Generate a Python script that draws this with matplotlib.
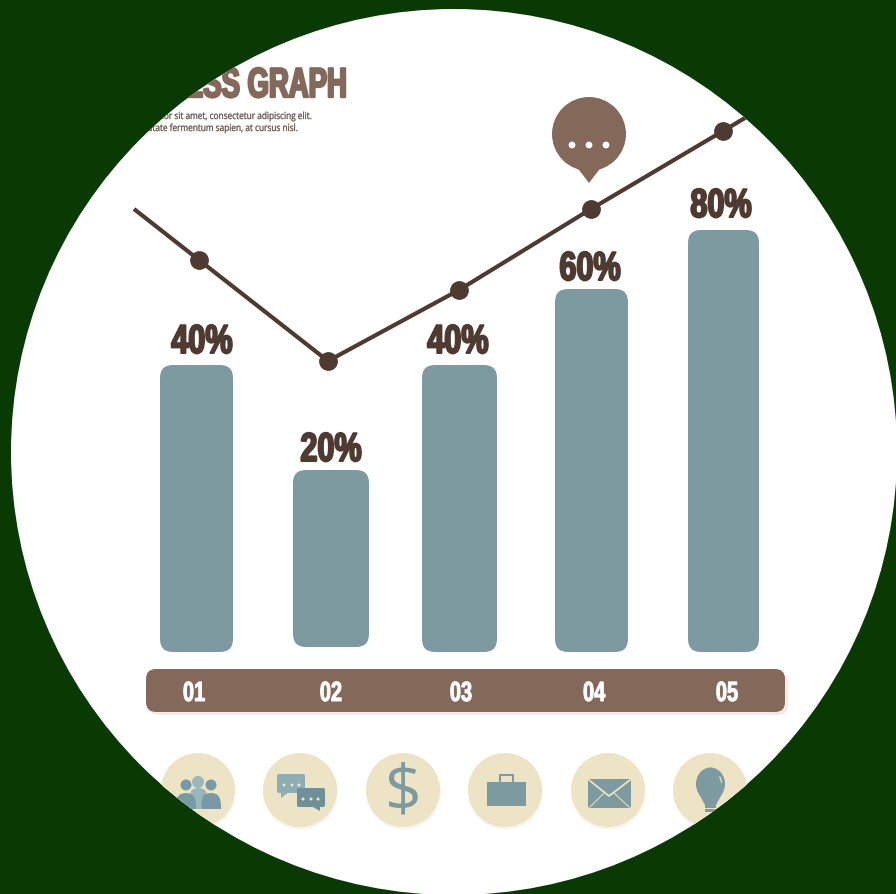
import matplotlib
matplotlib.use('Agg')
import matplotlib.pyplot as plt
from matplotlib.patches import Circle, FancyBboxPatch, Polygon, Rectangle, Ellipse, Arc
from matplotlib.transforms import Affine2D
import matplotlib.patheffects as pe

W, H = 896, 894
green = '#0a3a04'
teal = '#7d9aa0'
brown = '#84685a'
dark = '#4f3a32'
cream = '#ede4c5'

# bars, in picture pixels
bar_left = [160, 293, 422, 555, 688]
bar_right = [233, 369, 497, 628, 759]
bar_top = [365, 470, 365, 289, 230]
bar_bottom = [652, 647, 652, 652, 652]
bar_labels = ['40%', '20%', '40%', '60%', '80%']
label_x = [202, 331, 458, 590, 721]
label_y = [353, 461, 353, 280, 217]

# line
line_x = [134, 199, 328, 459, 591, 723, 750]
line_y = [209, 260, 361, 290, 209, 131, 115]
marker_x = line_x[1:6]
marker_y = line_y[1:6]

# band
band_labels = ['01', '02', '03', '04', '05']
band_x = [194, 331, 461, 594, 727]

# icon circles
icon_x = [198, 300, 403, 505, 608, 710]
icon_y = 790

bold = ['Liberation Sans', 'DejaVu Sans']
body = ['Open Sans', 'DejaVu Sans']


# squeezes the glyphs sideways and thickens them, there is no Impact here
# text drawn this way goes out as a path, so the clip to the disc works on it too
class Squeeze(pe.AbstractPathEffect):
    def __init__(self, sx, anchor, lw):
        super().__init__()
        self.sx = sx
        self.anchor = anchor
        self.lw = lw

    def draw_path(self, renderer, gc, tpath, affine, rgbFace=None):
        ext = tpath.get_extents()
        x0 = ext.x0 + (ext.x1 - ext.x0) * self.anchor
        tr = Affine2D().translate(-x0, 0).scale(self.sx, 1).translate(x0, 0) + affine
        gc0 = renderer.new_gc()
        gc0.copy_properties(gc)
        gc0.set_foreground(rgbFace)
        gc0.set_linewidth(self.lw)
        renderer.draw_path(gc0, tpath, tr, rgbFace)
        gc0.restore()


fig = plt.figure(figsize=(W / 100, H / 100), dpi=100, facecolor=green)
ax = fig.add_axes([0, 0, 1, 1])
ax.set_xlim(0, W)
ax.set_ylim(H, 0)
ax.axis('off')

disc = Circle((454, 452), 443, fc='white', ec='none', zorder=0)
ax.add_patch(disc)


def add(p, z=2):
    p.set_zorder(z)
    ax.add_patch(p)
    p.set_clip_path(disc)
    return p


def round_box(x0, y0, x1, y1, r, color, z=2):
    return add(FancyBboxPatch((x0 + r, y0 + r), x1 - x0 - 2 * r, y1 - y0 - 2 * r,
                              boxstyle='round,pad=%g,rounding_size=%g' % (r, r),
                              fc=color, ec='none'), z)


# title
t = ax.text(347, 97, 'BUSINESS GRAPH', ha='right', va='baseline', fontsize=30, color=brown,
            family=bold, weight='bold', clip_on=True,
            path_effects=[Squeeze(0.66, 1.0, 1.7)])
t.set_clip_path(disc)
t = ax.text(314, 119, 'Lorem ipsum dolor sit amet, consectetur adipiscing elit.', ha='right', va='baseline',
            fontsize=7, color='#5f4c44', family=body, clip_on=True,
            path_effects=[Squeeze(0.85, 1.0, 0.2)])
t.set_clip_path(disc)
t = ax.text(300, 131, 'Vulputate fermentum sapien, at cursus nisl.', ha='right', va='baseline',
            fontsize=7, color='#5f4c44', family=body, clip_on=True,
            path_effects=[Squeeze(0.85, 1.0, 0.2)])
t.set_clip_path(disc)

# bars
for x0, x1, y0, y1 in zip(bar_left, bar_right, bar_top, bar_bottom):
    round_box(x0, y0, x1, y1, 13, teal)
for s, x, y in zip(bar_labels, label_x, label_y):
    ax.text(x, y, s, ha='center', va='baseline', fontsize=29, color=dark, family=bold, weight='bold',
            path_effects=[Squeeze(0.76, 0.5, 1.5)], zorder=4)

# line
l, = ax.plot(line_x, line_y, color=dark, lw=3, zorder=3, solid_capstyle='butt')
l.set_clip_path(disc)
ax.plot(marker_x, marker_y, 'o', color=dark, ms=12.5, zorder=3)

# speech bubble
add(Circle((589, 134), 37, fc=brown, ec='none'), 3)
add(Polygon([(576, 166), (602, 166), (589, 183)], fc=brown, ec='none'), 3)
for x in [572, 589, 606]:
    add(Circle((x, 145), 3.4, fc='white', ec='none'), 4)

# band
round_box(149, 672, 788, 715, 10, '#efece8', 1)
round_box(146, 669, 785, 712, 10, brown)
for s, x in zip(band_labels, band_x):
    ax.text(x, 701, s, ha='center', va='baseline', fontsize=20, color='white', family=bold, weight='bold',
            path_effects=[Squeeze(0.72, 0.5, 0.7)], zorder=4)

# icon circles
for x in icon_x:
    add(Circle((x + 0.5, icon_y + 2), 37.5, fc='#f6f5f1', ec='none'), 1)
    add(Circle((x, icon_y), 37, fc=cream, ec='none'), 2)

# people
c1, c2 = '#7a9aa3', '#9ab7bb'
add(Circle((198, 782), 6, fc=c2, ec='none'), 3)
round_box(190, 788, 207, 815, 8, c2, 3)
for x in [186, 211]:
    add(Circle((x, 785), 5.5, fc=c1, ec='none'), 4)
    round_box(x - 9.5, 793, x + 9.5, 815, 9.5, c1, 4)
    add(Rectangle((x - 9.5, 803), 19, 6, fc=c1, ec='none'), 4)
add(Rectangle((170, 809), 55, 8, fc=cream, ec='none'), 5)

# chat
round_box(277, 774, 305, 793, 2, '#8fadb4', 3)
add(Polygon([(281, 792), (289, 792), (281, 798)], fc='#8fadb4', ec='none'), 3)
round_box(297, 788, 325, 807, 2, '#6f8f99', 4)
add(Polygon([(311, 806), (320, 806), (320, 811)], fc='#6f8f99', ec='none'), 4)
for x in [284, 292, 299]:
    add(Circle((x, 785), 1.5, fc=cream, ec='none'), 5)
for x in [303, 311, 318]:
    add(Circle((x, 799), 1.5, fc=cream, ec='none'), 5)

# dollar
ax.text(403, 794, '$', ha='center', va='center', fontsize=46, color=teal,
        family=body, zorder=3)

# briefcase
add(Rectangle((487, 782), 39, 24, fc=teal, ec='none'), 3)
add(Rectangle((500, 775), 12.5, 8, fc='none', ec=teal, lw=1.4), 3)

# envelope
round_box(588, 779, 631, 808, 2, teal, 3)
ax.plot([589, 609, 630], [780, 796, 780], color=cream, lw=1.3, zorder=4)
ax.plot([590, 604], [807, 793], color=cream, lw=0.7, zorder=4)
ax.plot([629, 614], [807, 793], color=cream, lw=0.7, zorder=4)

# bulb
add(Ellipse((710.5, 784), 29, 33, fc=teal, ec='none'), 3)
add(Polygon([(699, 794), (722, 794), (716, 805), (705, 805)], fc=teal, ec='none'), 3)
for y in [805, 809]:
    add(Rectangle((705, y), 11, 2.5, fc=teal, ec='none'), 3)
add(Arc((710.5, 784), 22, 26, theta1=-40, theta2=-5, color=cream, lw=0.9), 4)

fig.savefig('out.png', dpi=100, facecolor=green)
